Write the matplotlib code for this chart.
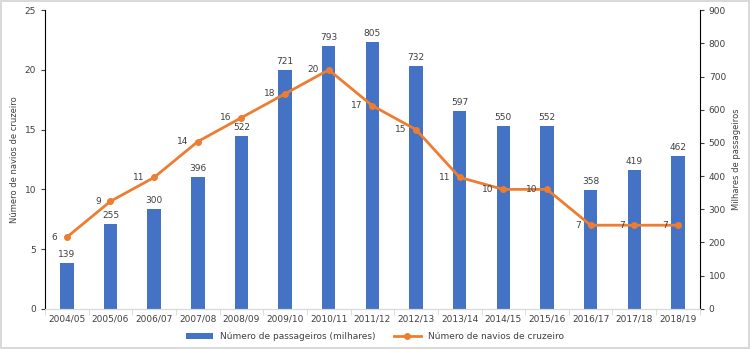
import matplotlib.pyplot as plt
import numpy as np

# seasons and values
seasons = ["2004/05", "2005/06", "2006/07", "2007/08", "2008/09", "2009/10", "2010/11",
           "2011/12", "2012/13", "2013/14", "2014/15", "2015/16", "2016/17", "2017/18", "2018/19"]
passengers = [139, 255, 300, 396, 522, 721, 793, 805, 732, 597, 550, 552, 358, 419, 462]
ships = [6, 9, 11, 14, 16, 18, 20, 17, 15, 11, 10, 10, 7, 7, 7]

blue = "#4472C4"
orange = "#ED7D31"
txt = "#404040"

plt.rcParams['font.family'] = ['DejaVu Sans']
fig = plt.figure(figsize=(7.5, 3.49), dpi=100)
fig.patch.set_edgecolor("#d9d9d9")
fig.patch.set_linewidth(1.5)

ax = fig.add_axes([0.06, 0.115, 0.873, 0.856])
ax2 = ax.twinx()
x = np.arange(len(seasons))

# bars on right axis
bars = ax2.bar(x, passengers, width=0.31, color=blue, zorder=1)
for xi, v in zip(x, passengers):
    ax2.text(xi, v + 12, str(v), ha="center", va="bottom", fontsize=6.5, color=txt)
ax2.set_ylim(0, 900)
ax2.set_yticks(range(0, 901, 100))
ax2.set_ylabel("Milhares de passageiros", fontsize=6, color=txt)

# line on left axis, drawn above bars
ax.set_zorder(ax2.get_zorder() + 1)
ax.patch.set_visible(False)
ax.plot(x, ships, color=orange, linewidth=2, marker="o", markersize=4)
for xi, v in zip(x, ships):
    ax.text(xi - 0.22, v, str(v), ha="right", va="center", fontsize=6.5, color=txt)
ax.set_ylim(0, 25)
ax.set_yticks(range(0, 26, 5))
ax.set_ylabel("Número de navios de cruzeiro", fontsize=6, color=txt)

ax.set_xlim(-0.5, len(seasons) - 0.5)
ax.set_xticks(x)
ax.set_xticklabels(seasons)
# category separators on the x axis
ax.set_xticks(np.arange(-0.5, len(seasons), 1.0), minor=True)
ax.tick_params(axis="x", which="minor", length=4, color="#d9d9d9")

for a in (ax, ax2):
    a.spines["top"].set_visible(False)
    a.spines["bottom"].set_color("#d9d9d9")
    a.spines["left"].set_color("black")
    a.spines["right"].set_color("black")
    a.tick_params(which="major", labelsize=6.5, colors=txt, length=3)
ax.tick_params(axis="x", which="major", length=0, pad=4)
ax2.spines["left"].set_visible(False)
ax.spines["right"].set_visible(False)

handles = [bars, ax.lines[0]]
labels = ["Número de passageiros (milhares)", "Número de navios de cruzeiro"]
fig.legend(handles, labels, loc="lower center", bbox_to_anchor=(0.5, 0.0), ncol=2,
           frameon=False, fontsize=6.5, handlelength=3, labelcolor=txt)

fig.savefig("out.png", dpi=100)
